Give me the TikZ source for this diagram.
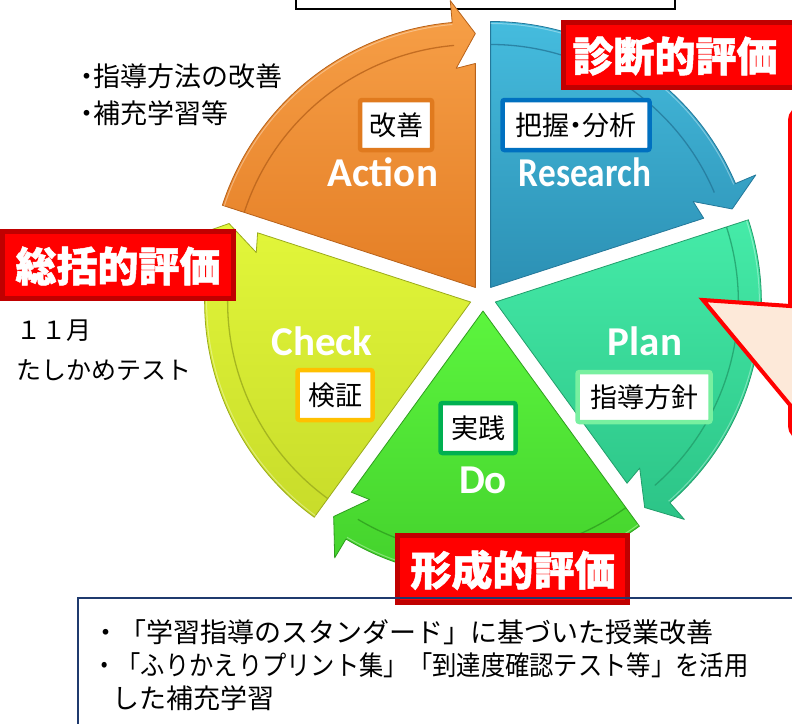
\documentclass[tikz,border=0pt]{standalone}
\usepackage{fontspec}
\usetikzlibrary{calc}
\newfontfamily\jp{Noto Sans CJK JP}
\newfontfamily\jpp[RawFeature=+palt]{Noto Sans CJK JP}
\newfontfamily\jph[BoldFeatures={FakeBold=1.2}]{Noto Sans CJK JP}
\newfontfamily\lat{Carlito}
\definecolor{peach}{HTML}{FDE9D9}
\definecolor{navy}{HTML}{1F3A6E}
\definecolor{dred}{HTML}{C00000}
\definecolor{tagorange}{HTML}{E07A1E}
\definecolor{tagblue}{HTML}{0070C0}
\definecolor{taglgreen}{HTML}{78F0A0}
\definecolor{taggreen}{HTML}{00B050}
\definecolor{tagyellow}{HTML}{FFC000}
\newcommand{\pdcaseg}[4]{%
 \definecolor{segtop}{HTML}{#2}%
 \definecolor{segbot}{HTML}{#3}%
 \definecolor{segline}{HTML}{#4}%
 \pgfmathsetmacro\sa{#1}%
 \pgfmathsetmacro\ea{#1-72}%
 \pgfmathsetmacro\bi{#1-36}%
 \pgfmathsetmacro\hb{#1-67}%
 \begin{scope}[shift={($(C)+(\bi:13)$)}]
  \path[top color=segtop,bottom color=segbot,draw=segline,line width=0.8pt,line join=round]
   (0,0) -- (\sa:266) arc[start angle=\sa,end angle=\hb,radius=266]
   -- (\hb:288) -- (\ea:254) -- (\hb:220) -- (\ea:224) -- cycle;
  \draw[segline,line width=1.3pt,opacity=0.8] (\sa:243) arc[start angle=\sa,end angle=\hb,radius=243];
  \draw[white,line width=1pt,opacity=0.35] (\sa:264) arc[start angle=\sa,end angle=\hb,radius=264];
 \end{scope}}
\tikzset{
 lbl/.style={font=\lat\bfseries\fontsize{41}{41}\selectfont, text=white, inner sep=0},
 tagbox/.style={draw=#1, line width=4.5pt, fill=white, rounded corners=2pt,
   font=\jpp\fontsize{27}{30}\selectfont, text=black, inner sep=0, minimum height=50pt},
 redbox/.style={fill=red, draw=dred, line width=5pt, inner sep=0},
 redtxt/.style={font=\jph\bfseries\fontsize{41}{41}\selectfont, text=white, inner sep=0},
 note/.style={font=\jp\fontsize{25}{33}\selectfont, text=black, inner sep=0, anchor=west, align=left},
 bignote/.style={font=\jp\fontsize{27}{33}\selectfont, text=black, inner sep=0, anchor=west, align=left},
}
\begin{document}
\begin{tikzpicture}[x=1pt,y=1pt]
\useasboundingbox (0,-723) rectangle (792,0);
\fill[white] (0,-723) rectangle (792,0);
\coordinate (C) at (483,-298);
% top box (cut)
\draw[black,line width=1.3pt] (296,5) -- (296,-9) -- (675,-9) -- (675,5);
% segments
\pdcaseg{90}{45BCDE}{2C90B4}{24789A}
\pdcaseg{18}{45EBA8}{2CC487}{229E6B}
\pdcaseg{-54}{5CF53E}{42CF2B}{2E9E1E}
\pdcaseg{-126}{E2F63A}{C8DC2A}{9AAA1C}
\pdcaseg{162}{F7A048}{E47E25}{B8621A}
% white labels
\node[lbl] (action) at (383,-172) {Action};
\node[lbl] (research) at (585,-172) {\scalebox{0.86}[1]{Research}};
\node[lbl] (plan) at (645,-341) {Plan};
\node[lbl] (do) at (483,-480) {Do};
\node[lbl] (check) at (322,-341) {Check};
% tag boxes
\node[tagbox=tagorange, minimum width=72] (kaizen) at (396,-125) {改善};
\node[tagbox=tagblue, minimum width=147] (haaku) at (576,-125) {把握・分析};
\node[tagbox=taglgreen, minimum width=133] (shishin) at (644,-397) {指導方針};
\node[tagbox=taggreen, minimum width=75] (jissen) at (478,-428) {実践};
\node[tagbox=tagyellow, minimum width=75] (kensho) at (335,-395) {検証};
% callout
\draw[red,line width=4pt,fill=peach,line join=miter]
  (850,-108) [rounded corners=12] -- (790,-108) -- (790,-200) [sharp corners] -- (790,-306)
  -- (703,-300) -- (790,-405) [rounded corners=12] -- (790,-438) -- (850,-438) [sharp corners] -- cycle;
% red boxes
\node[redbox, minimum width=260, minimum height=65, anchor=west] (r1box) at (560.5,-55) {};
\node[redtxt] (r1) at (675,-56) {診断的評価};
\node[redbox, minimum width=231, minimum height=67] (r2box) at (118,-265) {};
\node[redtxt] (r2) at (118,-266) {総括的評価};
\node[redbox, minimum width=230, minimum height=67] (r3box) at (512.5,-569) {};
\node[redtxt] (r3) at (513,-570) {形成的評価};
% notes
\node[note, font=\jp\fontsize{27}{33}\selectfont] (n1) at (80,-76) {{\jpp ・}指導方法の改善};
\node[note, font=\jp\fontsize{27}{33}\selectfont] (n2) at (80,-113) {{\jpp ・}補充学習等};
\node[note] (n3) at (16,-331) {１１月};
\node[note] (n4) at (16,-370) {たしかめテスト};
% bottom box
\draw[navy,line width=1.6pt] (78,-740) -- (78,-598) -- (820,-598);
\node[bignote] (b1) at (92,-632) {・「学習指導のスタンダード」に基づいた授業改善};
\node[bignote] (b2) at (92,-665) {\scalebox{0.9}[1]{・「ふりかえりプリント集」「到達度確認テスト等」を活用}};
\node[bignote] (b3) at (112,-698) {した補充学習};
\end{tikzpicture}
\end{document}
